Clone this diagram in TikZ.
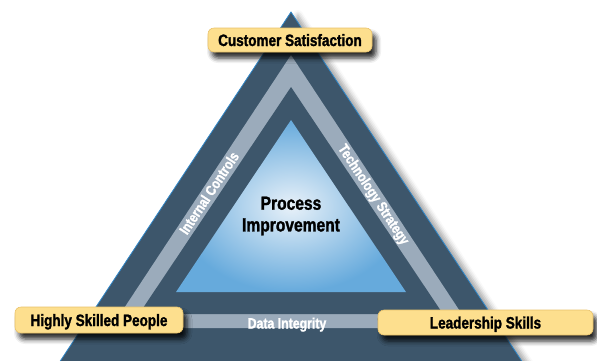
\documentclass[tikz,border=0pt]{standalone}
\usepackage{fontspec}
\newfontfamily\lblfont[FakeStretch=0.82, BoldFeatures={FakeBold=1.4}]{Liberation Sans}
\usetikzlibrary{shadows.blur}
\definecolor{slate}{HTML}{3D566B}
\definecolor{band}{HTML}{9BABBB}
\definecolor{skyout}{HTML}{66AADC}
\definecolor{skyin}{HTML}{E8F1F9}
\definecolor{edgeblue}{HTML}{2F86C8}
\definecolor{tag}{HTML}{FDDF8E}
\definecolor{tagedge}{HTML}{E9C26A}
\begin{document}
\begin{tikzpicture}[x=1pt,y=-1pt,
  tagbox/.style={fill=tag, draw=tagedge, line width=0.6pt, rounded corners=6pt,
    inner sep=0pt, text height=12pt, text depth=0pt,
    font=\lblfont\bfseries\fontsize{16.5}{18}\selectfont, text=black,
    blur shadow={shadow xshift=4pt, shadow yshift=-6pt, shadow blur radius=5pt, shadow opacity=85}},
  bandtext/.style={text=white, inner sep=0pt,
    font=\lblfont\bfseries\fontsize{14.5}{16}\selectfont},
  centertext/.style={text=black, inner sep=0pt, align=center,
    font=\lblfont\bfseries\fontsize{19}{21.7}\selectfont},
]
\useasboundingbox (0,0) rectangle (597,360);
\clip (0,0) rectangle (597,360);
% outer dark triangle with soft shadow
\fill[slate, blur shadow={shadow xshift=7pt, shadow yshift=-3pt, shadow blur radius=5pt, shadow opacity=35}]
  (291,12) -- (53,372) -- (529,372) -- cycle;
\draw[edgeblue, line width=0.8pt] (53,372) -- (291,12) -- (529,372);
% light band
\fill[band] (291,55) -- (111,328) -- (471,328) -- cycle;
% inner dark triangle
\fill[slate] (291,87) -- (139,314) -- (443,314) -- cycle;
% blue core
\shade[inner color=skyin, outer color=skyout] (291,120) -- (176,292) -- (406,292) -- cycle;
% texts
\node[centertext] (proc) at (291,216) {Process\\Improvement};
\node[bandtext, rotate=56.5] (ictrl) at (209,193) {Internal Controls};
\node[bandtext, rotate=-56.5] (tech) at (373,195) {Technology Strategy};
\node[bandtext, font=\lblfont\bfseries\fontsize{15}{17}\selectfont, anchor=base] (data) at (287,328.5) {Data Integrity};
% tags
\node[tagbox, minimum width=164pt, minimum height=24pt] (cust) at (290,40) {Customer Satisfaction};
\node[tagbox, minimum width=168pt, minimum height=26pt] (people) at (99,320) {Highly Skilled People};
\node[tagbox, minimum width=215pt, minimum height=25pt] (lead) at (485.5,322.5) {Leadership Skills};
\end{tikzpicture}
\end{document}
